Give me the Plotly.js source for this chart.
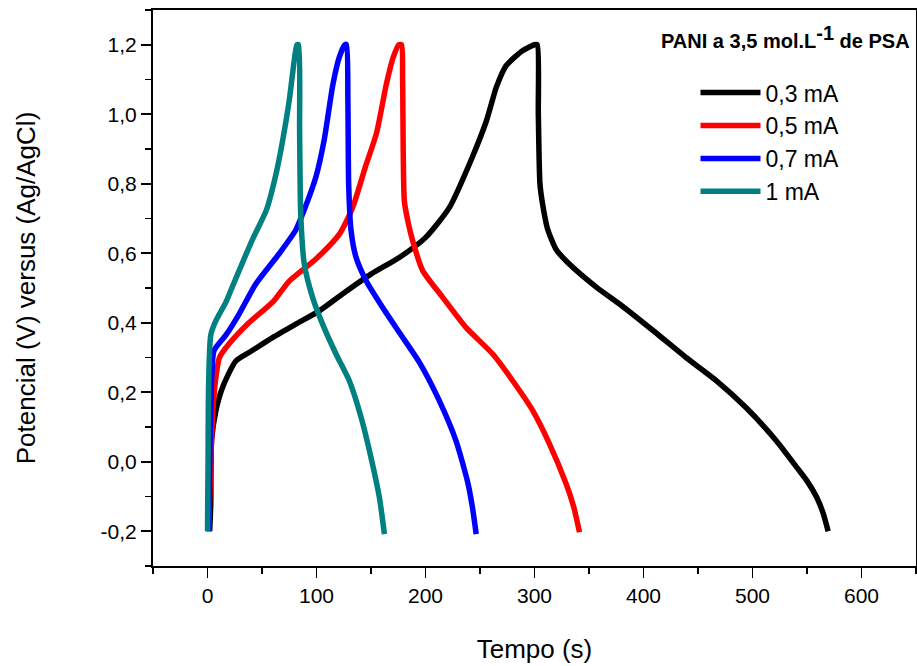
<!DOCTYPE html>
<html>
<head>
<meta charset="utf-8">
<script src="https://cdn.plot.ly/plotly-3.0.1.min.js"></script>
<style>html,body{margin:0;padding:0;background:#fff;}#chart{width:917px;height:666px;}</style>
</head>
<body>
<div id="chart"></div>
<script>
// Series names and colours
var seriesNames = ["0,3 mA", "0,5 mA", "0,7 mA", "1 mA"];
var seriesColors = ["#000000", "#ff0000", "#0000ff", "#008080"];

// 0,3 mA  (time in s, potential in V)
var t03 = [2, 3, 3.7, 7.7, 13.8, 26, 41, 60, 81, 103, 127, 150, 176, 200, 222, 243, 256, 265, 274, 289, 300, 302.5, 303.5, 305, 307.5, 312, 320, 330, 357, 378, 409, 439, 467, 494, 522, 543, 550, 559, 565, 569.4];
var v03 = [-0.2, -0.12, 0.06, 0.147, 0.214, 0.29, 0.32, 0.358, 0.396, 0.435, 0.49, 0.54, 0.588, 0.645, 0.732, 0.877, 0.982, 1.078, 1.14, 1.183, 1.2, 1.2, 1.0, 0.8, 0.74, 0.67, 0.61, 0.575, 0.502, 0.454, 0.377, 0.3, 0.233, 0.156, 0.06, -0.026, -0.055, -0.103, -0.15, -0.2];

// 0,5 mA
var t05 = [1, 3, 5, 8, 11, 20, 38, 60, 75, 100, 121, 133, 145, 155, 164, 170, 175.5, 178, 179, 180.6, 184, 188.2, 197.4, 215.8, 237.3, 261.7, 280, 298.4, 313.8, 329.1, 336, 341.3];
var v05 = [-0.2, 0.0, 0.15, 0.25, 0.3, 0.34, 0.4, 0.46, 0.52, 0.585, 0.655, 0.73, 0.85, 0.945, 1.085, 1.16, 1.2, 1.2, 1.1, 0.75, 0.69, 0.636, 0.55, 0.473, 0.386, 0.31, 0.233, 0.147, 0.051, -0.064, -0.13, -0.203];

// 0,7 mA
var t07 = [1, 2, 4, 6, 17, 29, 44, 66, 81, 90, 99.5, 107, 115, 121, 126, 127.5, 128.8, 129.5, 131.7, 136.3, 145.5, 160.7, 176, 194.4, 212, 228, 238.8, 243, 246.5];
var v07 = [-0.2, 0.0, 0.25, 0.32, 0.365, 0.425, 0.51, 0.6, 0.667, 0.735, 0.82, 0.925, 1.085, 1.165, 1.2, 1.2, 1.04, 0.8, 0.665, 0.588, 0.521, 0.444, 0.372, 0.286, 0.18, 0.06, -0.06, -0.13, -0.208];

// 1 mA
var t10 = [0, 0.5, 1, 3, 7.7, 17, 23, 41, 54, 63, 69, 75, 79.6, 82, 83.5, 84.5, 85.5, 88.8, 96.4, 105.6, 117.9, 130.1, 140.9, 150, 157.7, 162.3];
var v10 = [-0.2, 0.0, 0.22, 0.365, 0.406, 0.46, 0.505, 0.638, 0.724, 0.83, 0.925, 1.04, 1.155, 1.2, 1.2, 0.95, 0.715, 0.569, 0.473, 0.396, 0.31, 0.233, 0.128, 0.012, -0.103, -0.208];

var xs = [t03, t05, t07, t10];
var ys = [v03, v05, v07, v10];

// Tick values and labels
var xTickVals = [0, 100, 200, 300, 400, 500, 600];
var xTickText = ["0", "100", "200", "300", "400", "500", "600"];
var yTickVals = [-0.2, 0.0, 0.2, 0.4, 0.6, 0.8, 1.0, 1.2];
var yTickText = ["-0,2", "0,0", "0,2", "0,4", "0,6", "0,8", "1,0", "1,2"];

var legendTitle = "PANI a 3,5 mol.L<sup><span style=\"font-size:20px\">-1</span></sup> de PSA";
var xTitle = "Tempo (s)";
var yTitle = "Potencial (V) versus (Ag/AgCl)";

var FONT = "Liberation Sans, Arial, sans-serif";

var traces = [];
for (var i = 0; i < seriesNames.length; i++) {
  traces.push({
    x: xs[i], y: ys[i], type: "scatter", mode: "lines", name: seriesNames[i],
    line: {color: seriesColors[i], width: 5.5, shape: "spline", smoothing: 0.6}
  });
}

var axisCommon = {
  showline: true, linecolor: "#000", linewidth: 2, mirror: true,
  ticks: "outside", ticklen: 10, tickwidth: 1.6, tickcolor: "#000",
  showgrid: false, zeroline: false, tickmode: "array",
  tickfont: {family: FONT, size: 21, color: "#000"}
};
var minorCommon = {ticks: "outside", ticklen: 6, tickwidth: 1.6, tickcolor: "#000", showgrid: false};

var layout = {
  width: 917, height: 666,
  margin: {l: 153, r: 1, t: 10, b: 100},
  paper_bgcolor: "#fff", plot_bgcolor: "#fff",
  showlegend: true,
  legend: {
    x: 0.711, y: 0.89, xanchor: "left", yanchor: "top",
    bgcolor: "rgba(0,0,0,0)", borderwidth: 0,
    font: {family: FONT, size: 23, color: "#000"},
    itemwidth: 60, tracegroupgap: 0
  },
  xaxis: Object.assign({}, axisCommon, {
    range: [-50, 650], tickvals: xTickVals, ticktext: xTickText,
    minor: Object.assign({tickmode: "linear", tick0: 0, dtick: 50}, minorCommon),
    title: {text: xTitle, font: {family: FONT, size: 26, color: "#000"}, standoff: 34}
  }),
  yaxis: Object.assign({}, axisCommon, {
    range: [-0.3, 1.3], tickvals: yTickVals, ticktext: yTickText,
    minor: Object.assign({tickmode: "linear", tick0: 0, dtick: 0.1}, minorCommon),
    title: {text: yTitle, font: {family: FONT, size: 26, color: "#000"}, standoff: 58}
  }),
  annotations: [{
    xref: "paper", yref: "paper", x: 0.9945, y: 0.952, xanchor: "right", yanchor: "middle",
    text: "<b>" + legendTitle + "</b>", showarrow: false,
    font: {family: FONT, size: 20, color: "#000"}
  }]
};

Plotly.newPlot("chart", traces, layout, {staticPlot: true, displayModeBar: false});
</script>
</body>
</html>
